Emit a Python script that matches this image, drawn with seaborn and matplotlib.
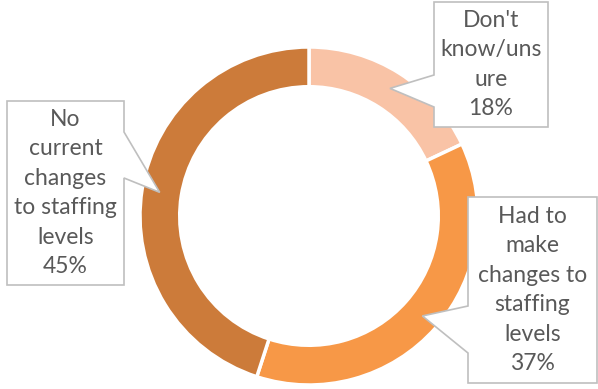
import numpy as np
import matplotlib
matplotlib.use("Agg")
import matplotlib.pyplot as plt
from matplotlib.patches import Polygon
import seaborn as sns

# Survey responses on staffing levels
categories = ["Don't\nknow/uns\nure", "Had to\nmake\nchanges to\nstaffing\nlevels",
              "No\ncurrent\nchanges\nto staffing\nlevels"]
shares = [18, 37, 45]
colors = ["#F9C3A6", "#F79847", "#CC7B3A"]

sns.set_theme(style="white")
plt.rcParams["font.family"] = ["Lato", "DejaVu Sans"]

W, H = 598, 389
fig = plt.figure(figsize=(W / 100, H / 100), dpi=100)
ax = fig.add_axes([0, 0, 1, 1])

cx, cy, R = 309, H - 216, 169
ring = 0.235
wedges, _ = ax.pie(shares, colors=colors, startangle=90, counterclock=False,
                   center=(cx, cy), radius=R, frame=True,
                   wedgeprops=dict(width=R * ring, edgecolor="white", linewidth=2.5))
ax.set_xlim(0, W)
ax.set_ylim(0, H)
ax.set_aspect("equal")
ax.axis("off")

# callout boxes: (left, top, right, bottom) in pixel rows, pointer side, pointer base rows
boxes = [
    dict(box=(434, 2, 548, 127), side="left", base=(75, 107)),
    dict(box=(468, 197, 597, 383), side="left", base=(306, 353)),
    dict(box=(7, 101, 124, 285), side="right", base=(132, 178)),
]

r_tip = R - R * ring / 2 + 2
for w, cat, val, b in zip(wedges, categories, shares, boxes):
    mid = np.deg2rad((w.theta1 + w.theta2) / 2)
    tx, ty = cx + r_tip * np.cos(mid), cy + r_tip * np.sin(mid)
    l, t, r, btm = b["box"]
    t, btm = H - t, H - btm
    b1, b2 = H - b["base"][0], H - b["base"][1]
    if b["side"] == "left":
        pts = [(l, t), (r, t), (r, btm), (l, btm), (l, b2), (tx, ty), (l, b1)]
    else:
        pts = [(l, t), (r, t), (r, b1), (tx, ty), (r, b2), (r, btm), (l, btm)]
    ax.add_patch(Polygon(pts, closed=True, facecolor="white", edgecolor="#BFBFBF",
                         linewidth=1.2, zorder=5))
    ax.text((l + r) / 2, (t + btm) / 2, f"{cat}\n{val}%", ha="center", va="center",
            fontsize=16.5, color="#595959", linespacing=1.5, zorder=6)

fig.savefig("out.png", dpi=100, facecolor="white")
